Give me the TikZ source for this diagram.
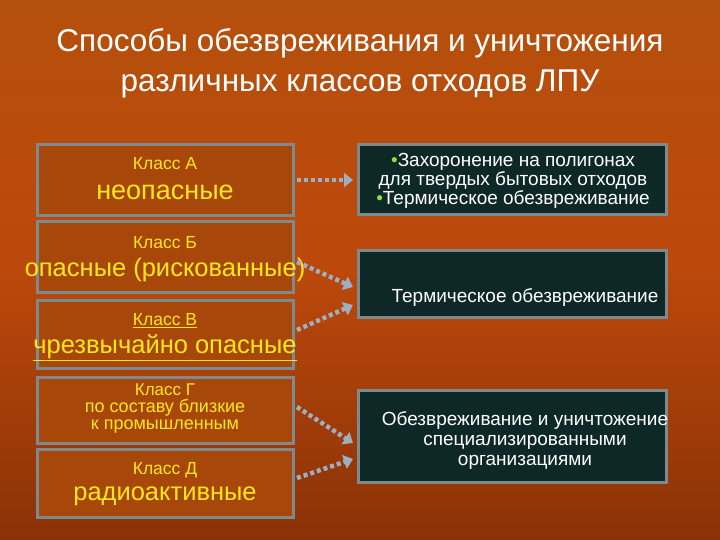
\documentclass[tikz,border=0pt]{standalone}
\usepackage{fontspec}
\setmainfont{Liberation Sans}
\usetikzlibrary{arrows.meta}
\definecolor{bgA}{HTML}{B5500C}
\definecolor{bgB}{HTML}{8A3206}
\definecolor{lbox}{HTML}{A8470A}
\definecolor{edge}{HTML}{7D8A8E}
\definecolor{rbox}{HTML}{0E2828}
\definecolor{ylw}{HTML}{FFE81A}
\definecolor{arr}{HTML}{9DAFC0}
\definecolor{grn}{HTML}{8EE03A}
\tikzset{
 lb/.style={draw=edge,line width=3pt,fill=lbox,minimum width=256pt,text=ylw,align=center,inner sep=0pt},
 rb/.style={draw=edge,line width=3pt,fill=rbox,minimum width=308pt,text=white,align=center,inner sep=0pt},
 con/.style={draw=arr,line width=4.5pt,dash pattern=on 4pt off 3pt,-{Triangle[length=9pt,width=14pt]}},
 sm/.style={font=\fontsize{17.5}{18}\selectfont,inner sep=0pt},
 bg/.style={font=\fontsize{25.5}{28}\selectfont,inner sep=0pt},
 rt/.style={font=\fontsize{19}{17}\selectfont,inner sep=0pt}
}
\begin{document}
\begin{tikzpicture}[x=1pt,y=-1pt]
\shade[top color=bgA,bottom color=bgB,middle color=bgA!90!red] (0,0) rectangle (720,540);
\useasboundingbox (0,0) rectangle (720,540);
\node[text=white,font=\fontsize{31.5}{40}\selectfont,align=center] (title) at (360,63) {Способы обезвреживания и уничтожения\\различных классов отходов ЛПУ};
\node[lb,minimum height=71pt] (a) at (165,180.5) {};
\node[text=ylw,sm] (at1) at (165,164) {Класс А};
\node[text=ylw,font=\fontsize{27}{28}\selectfont,inner sep=0pt] (at2) at (165,192) {неопасные};
\node[lb,minimum height=70pt] (b) at (165,257) {};
\node[text=ylw,sm] (bt1) at (165,243) {Класс Б};
\node[text=ylw,bg] (bt2) at (165,270) {опасные (рискованные)};
\node[lb,minimum height=68pt] (c) at (165,334) {};
\node[text=ylw,sm] (ct1) at (165,321) {\underline{Класс В}};
\node[text=ylw,bg] (ct2) at (165,348) {\underline{чрезвычайно опасные}};
\node[lb,minimum height=66pt] (d) at (165,410) {};
\node[text=ylw,font=\fontsize{18}{17}\selectfont,align=center,inner sep=0pt] (dt) at (165,409) {{\fontsize{17}{17}\selectfont Класс Г}\\по составу близкие\\к промышленным};
\node[lb,minimum height=68pt] (e) at (165,483) {};
\node[text=ylw,sm] (et1) at (165,470) {Класс Д};
\node[text=ylw,bg] (et2) at (165,496) {радиоактивные};
\node[rb,minimum height=70pt] (r1) at (512,180) {};
\node[text=white,rt,align=center] (r1t) at (513,181) {{\color{grn}\textbullet}Захоронение на полигонах\\для твердых бытовых отходов\\{\color{grn}\textbullet}Термическое обезвреживание};
\node[rb,minimum height=67pt] (r2) at (512,283.5) {};
\node[text=white,rt] (r2t) at (525,298) {Термическое обезвреживание};
\node[rb,minimum height=92pt] (r3) at (512,436) {};
\node[text=white,font=\fontsize{19}{20}\selectfont,align=center,inner sep=0pt] (r3t) at (525,441) {Обезвреживание и уничтожение\\специализированными\\организациями};
\coordinate (a1) at (297,180); \coordinate (a2) at (353,180);
\coordinate (b1) at (297,262); \coordinate (b2) at (353,287);
\coordinate (c1) at (297,330); \coordinate (c2) at (353,305);
\coordinate (d1) at (297,407); \coordinate (d2) at (353,443);
\coordinate (e1) at (297,478); \coordinate (e2) at (353,459);
\draw[con] (a1) -- (a2);
\draw[con] (b1) -- (b2);
\draw[con] (c1) -- (c2);
\draw[con] (d1) -- (d2);
\draw[con] (e1) -- (e2);
\end{tikzpicture}
\end{document}
